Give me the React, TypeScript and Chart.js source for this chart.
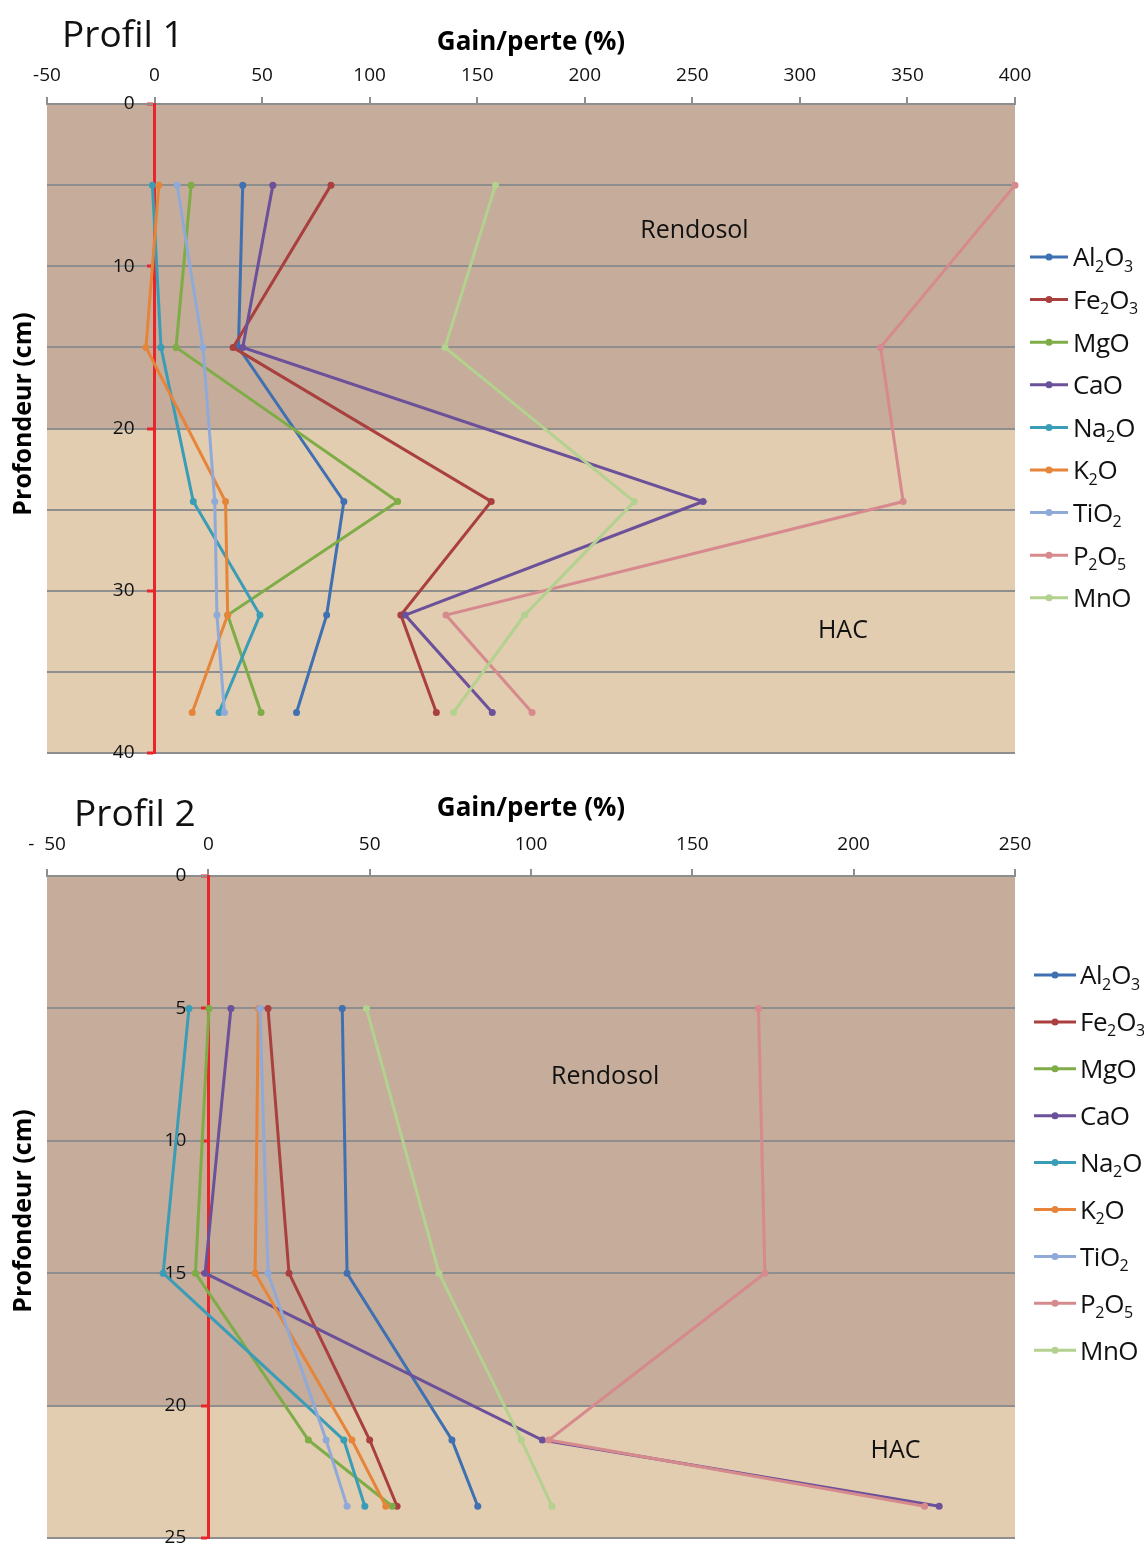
import React, { useEffect, useRef } from 'react';
import { Chart, registerables } from 'chart.js';

Chart.register(...registerables);

const FONT = '"Open Sans", "DejaVu Sans", sans-serif';

// ---------- shared ----------
const OXIDES = ['Al₂O₃', 'Fe₂O₃', 'MgO', 'CaO', 'Na₂O', 'K₂O', 'TiO₂', 'P₂O₅', 'MnO'];
const OXIDE_COLORS = ['#3F70B2', '#A9403F', '#7EAC47', '#6B509A', '#3A9DB7', '#E6843A', '#8FAAD8', '#D68A8D', '#B3D18F'];
const HORIZON_NAMES = ['Rendosol', 'HAC'];
const HORIZON_COLORS = ['#C6AC9A', '#E2CDB0'];

// ---------- Profil 1 ----------
const P1_DEPTHS = [5, 15, 24.5, 31.5, 37.5];
const P1_AL2O3 = [41, 39, 88, 80, 66];
const P1_FE2O3 = [82, 36.5, 156.5, 114.5, 131];
const P1_MGO = [17, 10, 113, 34, 49.5];
const P1_CAO = [55, 41, 255, 116.5, 157];
const P1_NA2O = [-1, 3, 18, 49, 30];
const P1_K2O = [2, -4, 33, 34, 17.5];
const P1_TIO2 = [10.5, 22.5, 28, 29, 32.5];
const P1_P2O5 = [400, 337.5, 348, 135.5, 175.5];
const P1_MNO = [158.5, 135, 223, 172, 139];
const P1_X_TICKS = [-50, 0, 50, 100, 150, 200, 250, 300, 350, 400];
const P1_X_TICK_LABELS = ['-50', '0', '50', '100', '150', '200', '250', '300', '350', '400'];
const P1_Y_TICKS = [0, 5, 10, 15, 20, 25, 30, 35, 40];
const P1_Y_TICK_LABELS = ['0', '', '10', '', '20', '', '30', '', '40'];
const P1_HORIZON_LIMITS = [0, 20, 40];
const P1_HORIZON_LABEL_X = [251, 320];
const P1_HORIZON_LABEL_Y = [7.8, 32.5];

// ---------- Profil 2 ----------
const P2_DEPTHS = [5, 15, 21.3, 23.8];
const P2_AL2O3 = [41.5, 43, 75.5, 83.5];
const P2_FE2O3 = [18.5, 25, 50, 58.5];
const P2_MGO = [0.2, -4, 31, 57];
const P2_CAO = [7, -1, 103.5, 226.5];
const P2_NA2O = [-6, -14, 42, 48.5];
const P2_K2O = [15.5, 14.5, 44.5, 55];
const P2_TIO2 = [16, 18.5, 36.5, 43];
const P2_P2O5 = [170.5, 172.5, 105.5, 222];
const P2_MNO = [49, 71.5, 97, 106.5];
const P2_X_TICKS = [-50, 0, 50, 100, 150, 200, 250];
const P2_X_TICK_LABELS = ['-  50', '0', '50', '100', '150', '200', '250'];
const P2_Y_TICKS = [0, 5, 10, 15, 20, 25];
const P2_Y_TICK_LABELS = ['0', '5', '10', '15', '20', '25'];
const P2_HORIZON_LIMITS = [0, 20, 25];
const P2_HORIZON_LABEL_X = [123, 213];
const P2_HORIZON_LABEL_Y = [7.6, 21.7];

const PROFILE_1 = {
  title: 'Profil 1',
  depths: P1_DEPTHS,
  series: [P1_AL2O3, P1_FE2O3, P1_MGO, P1_CAO, P1_NA2O, P1_K2O, P1_TIO2, P1_P2O5, P1_MNO],
  xTicks: P1_X_TICKS, xTickLabels: P1_X_TICK_LABELS,
  yTicks: P1_Y_TICKS, yTickLabels: P1_Y_TICK_LABELS,
  limits: P1_HORIZON_LIMITS, labelX: P1_HORIZON_LABEL_X, labelY: P1_HORIZON_LABEL_Y,
};
const PROFILE_2 = {
  title: 'Profil 2',
  depths: P2_DEPTHS,
  series: [P2_AL2O3, P2_FE2O3, P2_MGO, P2_CAO, P2_NA2O, P2_K2O, P2_TIO2, P2_P2O5, P2_MNO],
  xTicks: P2_X_TICKS, xTickLabels: P2_X_TICK_LABELS,
  yTicks: P2_Y_TICKS, yTickLabels: P2_Y_TICK_LABELS,
  limits: P2_HORIZON_LIMITS, labelX: P2_HORIZON_LABEL_X, labelY: P2_HORIZON_LABEL_Y,
};

// ---------- layout (pixels) ----------
const LAYOUT_1 = {
  top: 0, height: 780, padBottom: 27, xAxisHeight: 104, titlePadTop: 27, tickPad: 10,
  titleX: 62, titleBase: 47, yTitleX: 24, yTitleY: 414,
  legendX: 1030, legendLine: 38, legendTextGap: 5, legendTop: 257, legendStep: 42.6,
  yLabelShift: 20,
};
const LAYOUT_2 = {
  top: 770, height: 795, padBottom: 27, xAxisHeight: 106, titlePadTop: 23, tickPad: 13.5,
  titleX: 74, titleBase: 56, yTitleX: 24, yTitleY: 441,
  legendX: 1034, legendLine: 42, legendTextGap: 4, legendTop: 205, legendStep: 46.9,
  yLabelShift: 22,
};

const SUB = '₀₁₂₃₄₅₆₇₈₉';
function drawRichText(ctx, text, x, baseline, size, weight = 'normal') {
  let cx = x;
  for (const ch of text) {
    const k = SUB.indexOf(ch);
    if (k >= 0) {
      ctx.font = `${weight} ${Math.round(size * 0.6)}px ${FONT}`;
      ctx.fillText(String(k), cx, baseline + size * 0.2);
      cx += ctx.measureText(String(k)).width;
    } else {
      ctx.font = `${weight} ${size}px ${FONT}`;
      ctx.fillText(ch, cx, baseline);
      cx += ctx.measureText(ch).width - 0.5;
    }
  }
}

function makeConfig(p, L) {
  const yMax = p.limits[p.limits.length - 1];
  const bandsPlugin = {
    id: 'bands',
    beforeDraw(chart) {
      const { ctx, chartArea: a, scales } = chart;
      const y = scales.y;
      // y labels sit left of the red axis, clear of the tick marks
      const items = y.getLabelItems(a);
      items.forEach((it) => {
        if (!it.__shifted) {
          it.options.translation[0] -= L.yLabelShift;
          it.__shifted = true;
        }
      });
      ctx.save();
      for (let i = 0; i < p.limits.length - 1; i++) {
        const t = y.getPixelForValue(p.limits[i]);
        const b = y.getPixelForValue(p.limits[i + 1]);
        ctx.fillStyle = HORIZON_COLORS[i];
        ctx.fillRect(a.left, t, a.right - a.left, b - t);
      }
      ctx.restore();
    },
    beforeDatasetsDraw(chart) {
      const { ctx, scales } = chart;
      ctx.save();
      ctx.fillStyle = '#111';
      ctx.font = `25px ${FONT}`;
      ctx.textAlign = 'center';
      ctx.textBaseline = 'middle';
      HORIZON_NAMES.forEach((n, i) => {
        ctx.fillText(n, scales.x.getPixelForValue(p.labelX[i]), scales.y.getPixelForValue(p.labelY[i]));
      });
      ctx.restore();
    },
    afterDraw(chart) {
      const { ctx } = chart;
      ctx.save();
      ctx.fillStyle = '#111';
      ctx.textAlign = 'left';
      ctx.textBaseline = 'alphabetic';
      ctx.font = `37px ${FONT}`;
      ctx.fillText(p.title, L.titleX, L.titleBase);
      // y title
      ctx.save();
      ctx.translate(L.yTitleX, L.yTitleY);
      ctx.rotate(-Math.PI / 2);
      ctx.font = `bold 25px ${FONT}`;
      ctx.textAlign = 'center';
      ctx.textBaseline = 'middle';
      ctx.fillStyle = '#000';
      ctx.fillText('Profondeur (cm)', 0, 0);
      ctx.restore();
      // legend
      OXIDES.forEach((name, i) => {
        const yy = L.legendTop + i * L.legendStep;
        ctx.strokeStyle = OXIDE_COLORS[i];
        ctx.lineWidth = 3;
        ctx.beginPath();
        ctx.moveTo(L.legendX, yy);
        ctx.lineTo(L.legendX + L.legendLine, yy);
        ctx.stroke();
        ctx.fillStyle = OXIDE_COLORS[i];
        ctx.beginPath();
        ctx.arc(L.legendX + L.legendLine / 2, yy, 3.5, 0, Math.PI * 2);
        ctx.fill();
        ctx.fillStyle = '#111';
        ctx.textAlign = 'left';
        ctx.textBaseline = 'alphabetic';
        drawRichText(ctx, name, L.legendX + L.legendLine + L.legendTextGap, yy + 9.3, 26);
      });
      ctx.restore();
    },
  };

  return {
    type: 'scatter',
    data: {
      datasets: OXIDES.map((name, i) => ({
        label: name,
        data: p.depths.map((d, k) => ({ x: p.series[i][k], y: d })),
        showLine: true,
        borderColor: OXIDE_COLORS[i],
        backgroundColor: OXIDE_COLORS[i],
        borderWidth: 3,
        pointRadius: 3.5,
        pointBorderWidth: 0,
        pointHoverRadius: 3.5,
        tension: 0,
        fill: false,
        order: -i,
        clip: 6,
      })),
    },
    options: {
      responsive: false,
      animation: false,
      events: [],
      layout: { padding: { left: 47, right: 129, top: 0, bottom: L.padBottom } },
      plugins: { legend: { display: false }, tooltip: { enabled: false } },
      scales: {
        x: {
          type: 'linear',
          position: 'top',
          min: p.xTicks[0],
          max: p.xTicks[p.xTicks.length - 1],
          afterBuildTicks: (s) => { s.ticks = p.xTicks.map((v) => ({ value: v })); },
          afterFit: (s) => { s.height = L.xAxisHeight; },
          ticks: {
            autoSkip: false,
            maxRotation: 0,
            padding: L.tickPad,
            color: '#111',
            font: { family: FONT, size: 19 },
            callback: (v) => { const k = p.xTicks.indexOf(v); return k >= 0 ? p.xTickLabels[k] : ''; },
          },
          grid: { drawOnChartArea: false, drawTicks: true, tickLength: 7, color: '#8e8e8e', lineWidth: 2 },
          border: { display: true, color: '#8e8e8e', width: 2 },
          title: {
            display: true,
            text: 'Gain/perte (%)',
            color: '#000',
            font: { family: FONT, size: 26, weight: 'bold' },
            padding: { top: L.titlePadTop, bottom: 0 },
          },
        },
        y: {
          type: 'linear',
          position: { x: 0 },
          reverse: true,
          min: 0,
          max: yMax,
          afterBuildTicks: (s) => { s.ticks = p.yTicks.map((v) => ({ value: v })); },
          ticks: {
            autoSkip: false,
            padding: 14,
            color: '#111',
            font: { family: FONT, size: 19 },
            callback: (v) => { const k = p.yTicks.indexOf(v); return k >= 0 ? p.yTickLabels[k] : ''; },
          },
          grid: {
            color: '#8e8e8e',
            lineWidth: 2,
            drawTicks: true,
            tickLength: 6,
            tickWidth: 3,
            tickColor: (c) => {
              const k = c.tick ? p.yTicks.indexOf(c.tick.value) : -1;
              return k >= 0 && p.yTickLabels[k] !== '' ? '#E8262A' : 'rgba(0,0,0,0)';
            },
          },
          border: { display: true, color: '#E8262A', width: 3 },
        },
      },
    },
    plugins: [bandsPlugin],
  };
}

function ProfileChart({ profile, layout }) {
  const ref = useRef(null);
  useEffect(() => {
    const chart = new Chart(ref.current, makeConfig(profile, layout));
    return () => chart.destroy();
  }, [profile, layout]);
  return (
    <canvas
      ref={ref}
      width={1144}
      height={layout.height}
      style={{ position: 'absolute', left: 0, top: layout.top, width: 1144, height: layout.height }}
    />
  );
}

export default function App() {
  return (
    <div style={{ position: 'fixed', left: 0, top: 0, width: 1144, height: 1544, overflow: 'hidden', background: '#fff' }}>
      <ProfileChart profile={PROFILE_1} layout={LAYOUT_1} />
      <ProfileChart profile={PROFILE_2} layout={LAYOUT_2} />
    </div>
  );
}
